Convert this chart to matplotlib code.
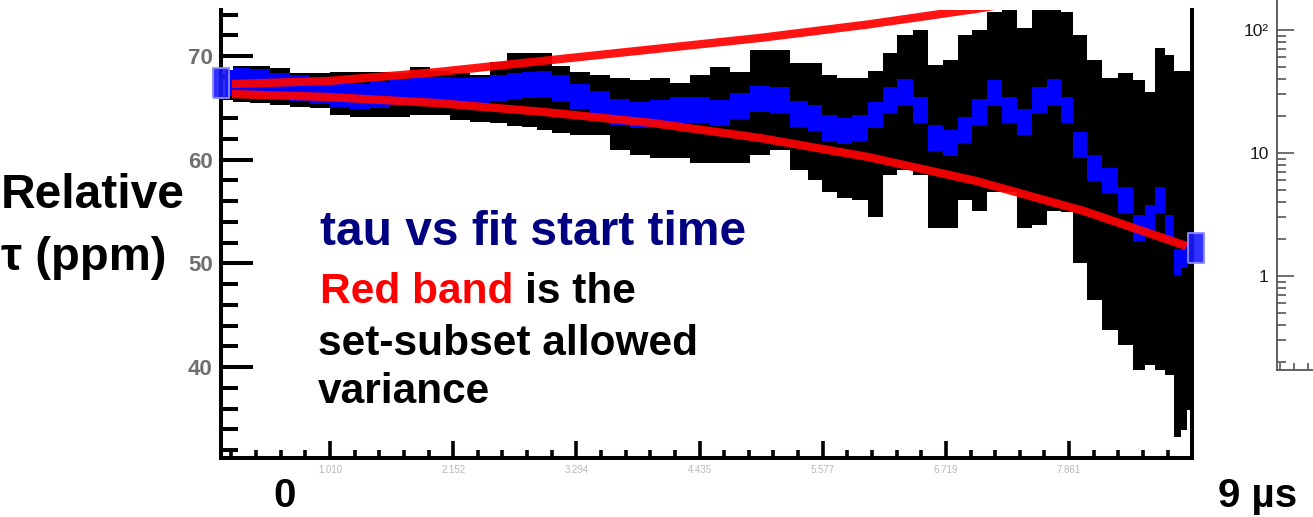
import matplotlib
matplotlib.use("Agg")
import matplotlib.pyplot as plt
from matplotlib.ticker import FixedLocator, MultipleLocator, NullFormatter, LogLocator

plt.rcParams['font.family'] = ['Liberation Sans', 'DejaVu Sans']

W, H, DPI = 1313, 517, 100

# ---- data -------------------------------------------------------------
# fit start time (µs)
start_time = [0.04, 0.18, 0.36, 0.55, 0.73, 0.92, 1.10, 1.29, 1.47, 1.66,
              1.84, 2.03, 2.22, 2.40, 2.59, 2.72, 2.86, 3.00, 3.14, 3.33,
              3.51, 3.70, 3.88, 4.07, 4.25, 4.44, 4.62, 4.81, 5.00, 5.18,
              5.37, 5.51, 5.64, 5.78, 5.92, 6.08, 6.20, 6.34, 6.48, 6.62,
              6.76, 6.90, 7.03, 7.17, 7.31, 7.45, 7.59, 7.73, 7.84, 7.96,
              8.10, 8.24, 8.38, 8.52, 8.61, 8.70, 8.80, 8.87, 8.93, 8.98]

# fitted lifetime, relative (ppm)
tau_mean = [67.4, 67.6, 67.5, 67.1, 66.9, 66.6, 66.3, 66.1, 66.2, 66.5,
            66.7, 66.7, 66.6, 66.7, 66.9, 67.1, 67.2, 67.3, 66.9, 66.1,
            65.4, 64.6, 64.3, 64.5, 64.8, 64.8, 64.5, 65.2, 65.9, 65.8,
            64.4, 64.0, 63.1, 62.8, 63.1, 64.3, 65.8, 66.5, 64.8, 62.1,
            61.6, 62.9, 64.6, 66.4, 64.8, 63.6, 65.8, 66.5, 64.8, 61.4,
            59.2, 58.0, 56.1, 53.4, 54.4, 56.1, 53.4, 50.1, 50.8, 51.5]

# error band on tau (ppm)
band_high = [68.6, 69.0, 69.0, 68.8, 68.4, 68.4, 68.5, 68.5, 68.5, 68.4,
             68.9, 68.6, 68.4, 68.2, 69.4, 70.3, 70.3, 70.3, 69.0, 68.5,
             68.2, 67.9, 67.7, 67.9, 67.4, 68.2, 68.9, 68.5, 70.6, 70.6,
             69.3, 69.3, 68.2, 67.9, 67.9, 68.6, 70.3, 72.0, 72.5, 69.1,
             69.6, 72.0, 72.5, 74.2, 74.8, 72.7, 74.8, 74.8, 74.2, 72.0,
             69.6, 67.9, 68.4, 67.7, 66.5, 70.8, 70.1, 68.6, 68.6, 68.6]
band_low = [65.8, 65.6, 65.5, 65.3, 65.1, 65.0, 64.3, 64.1, 64.1, 64.1,
            64.3, 64.3, 63.8, 63.6, 63.5, 63.3, 63.2, 62.9, 62.6, 62.4,
            62.4, 60.9, 60.5, 60.2, 60.2, 59.7, 59.7, 59.7, 60.5, 60.9,
            59.0, 58.0, 56.9, 56.3, 56.1, 54.5, 58.5, 59.0, 58.5, 53.4,
            53.4, 56.1, 55.1, 56.9, 56.9, 53.4, 53.7, 55.1, 55.0, 50.0,
            46.5, 43.6, 42.1, 39.7, 40.2, 39.7, 39.2, 33.3, 33.9, 35.9]

tau_stat = 1.25  # half-width of the central (blue) band, ppm

# set-subset allowed variance envelope
red_time = [0.1, 1, 2, 3, 4, 5, 6, 7, 8, 8.95]
red_upper = [67.3, 67.6, 68.45, 69.55, 70.65, 71.75, 73.05, 74.55, 76.3, 78.1]
red_lower = [66.34, 66.05, 65.47, 64.6, 63.54, 62.09, 60.26, 57.95, 55.05, 51.68]

y_ticks = [40, 50, 60, 70]
log_ticks = [1, 10, 100]
log_labels = ['1', '10', '10\u00b2']

# ---- figure -----------------------------------------------------------
fig = plt.figure(figsize=(W / DPI, H / DPI), dpi=DPI)
fig.patch.set_facecolor('white')


def fx(px):
    return px / W


def fy(py):
    return 1 - py / H


ax = fig.add_axes([fx(221), fy(458), (1192 - 221) / W, (458 - 10) / H])
ax.set_xlim(0, 9)
ax.set_ylim(31.24, 74.44)
ax.set_axisbelow(True)

lo = [m - tau_stat for m in tau_mean]
hi = [m + tau_stat for m in tau_mean]
ax.fill_between(start_time, band_low, band_high, step='mid',
                color='black', lw=0, zorder=1)
ax.fill_between(start_time, lo, hi, step='mid', color='#0000ff',
                lw=0, zorder=2)
ax.plot(red_time, red_upper, color='#ff0000', lw=6.0, alpha=0.92,
        solid_capstyle='butt', solid_joinstyle='round', zorder=3)
ax.plot(red_time, red_lower, color='#ff0000', lw=6.0, alpha=0.92,
        solid_capstyle='butt', solid_joinstyle='round', zorder=3)

# end points of the tau series
box = [(-0.55, -1), (0.55, -1), (0.55, 1), (-0.55, 1), (-0.55, -1)]
ax.plot([start_time[0] - 0.04, start_time[-1] + 0.06],
        [tau_mean[0], tau_mean[-1]], ls='none', marker=box, ms=21,
        mfc='#1a1aff', mec='#8c8cff', mew=1.5, alpha=0.9,
        clip_on=False, zorder=4)

# spines
for side in ('left', 'bottom', 'right'):
    ax.spines[side].set_linewidth(2.9)
    ax.spines[side].set_color('black')
ax.spines['top'].set_visible(False)

# y axis ticks
ax.yaxis.set_major_locator(FixedLocator(y_ticks))
ax.yaxis.set_minor_locator(MultipleLocator(2))
ax.tick_params(axis='y', which='major', direction='in', length=23, width=2.9,
               pad=6, labelsize=16, labelcolor='#6e6e6e')
ax.tick_params(axis='y', which='minor', direction='in', length=12, width=2.9)
for lbl in ax.get_yticklabels():
    lbl.set_fontweight('bold')

# x axis ticks
x_step = 1.1418
x_major = [1.010 + k * x_step for k in range(8)]
x_minor = [1.010 - 4 * x_step / 5 + k * x_step / 5 for k in range(40)]
x_minor = [v for v in x_minor if 0.05 < v < 9.0]
ax.xaxis.set_major_locator(FixedLocator(x_major))
ax.xaxis.set_minor_locator(FixedLocator(x_minor))
ax.set_xticklabels([f'{v:.3f}' for v in x_major])
ax.tick_params(axis='x', which='major', direction='in', length=12.5, width=2.6,
               pad=5, labelsize=7, labelcolor='#b8b8b8')
ax.tick_params(axis='x', which='minor', direction='in', length=6, width=2.6)

# ---- neighbouring log-scale panel (partly visible) ----------------------
ax2 = fig.add_axes([fx(1277), fy(370), 0.2, 370 / H])
ax2.set_yscale('log')
ax2.set_ylim(0.172, 175.4)
ax2.set_xlim(0, 262.6)
for side in ('top', 'right'):
    ax2.spines[side].set_visible(False)
for side in ('left', 'bottom'):
    ax2.spines[side].set_color('#555555')
    ax2.spines[side].set_linewidth(1.3)
ax2.yaxis.set_major_locator(FixedLocator(log_ticks))
ax2.set_yticklabels(log_labels)
ax2.yaxis.set_minor_locator(LogLocator(base=10, subs=range(2, 10)))
ax2.yaxis.set_minor_formatter(NullFormatter())
ax2.tick_params(axis='y', which='major', direction='in', length=12, width=1.2,
                color='#555555', pad=6, labelsize=12.5, labelcolor='#1a1a1a')
ax2.tick_params(axis='y', which='minor', direction='in', length=6.5,
                width=1.2, color='#555555')
ax2.xaxis.set_major_locator(FixedLocator([3, 17, 31]))
ax2.xaxis.set_minor_locator(FixedLocator([]))
ax2.tick_params(axis='x', which='major', direction='in', length=5, width=1.2,
                color='#555555', labelbottom=False)

# ---- text -------------------------------------------------------------
big = dict(fontweight='bold', va='baseline')
fig.text(fx(1), fy(208), 'Relative', fontsize=34.5, color='black', **big)
fig.text(fx(1), fy(270), '\u03c4 (ppm)', fontsize=34, color='black', **big)

fig.text(fx(320), fy(245), 'tau vs fit start time', fontsize=34.5,
         color='#000080', **big)
fig.text(fx(320), fy(303), 'Red band', fontsize=30.5, color='#ff0000', **big)
fig.text(fx(525), fy(303), 'is the', fontsize=30.5, color='black', **big)
fig.text(fx(318), fy(355), 'set-subset allowed', fontsize=30.5,
         color='black', **big)
fig.text(fx(318), fy(403), 'variance', fontsize=30.5, color='black', **big)

fig.text(fx(285), fy(507), '0', fontsize=29, color='black', ha='center', **big)
fig.text(fx(1218), fy(507), '9 \u00b5s', fontsize=29, color='black', **big)

fig.savefig('out.png', dpi=DPI, facecolor='white')
